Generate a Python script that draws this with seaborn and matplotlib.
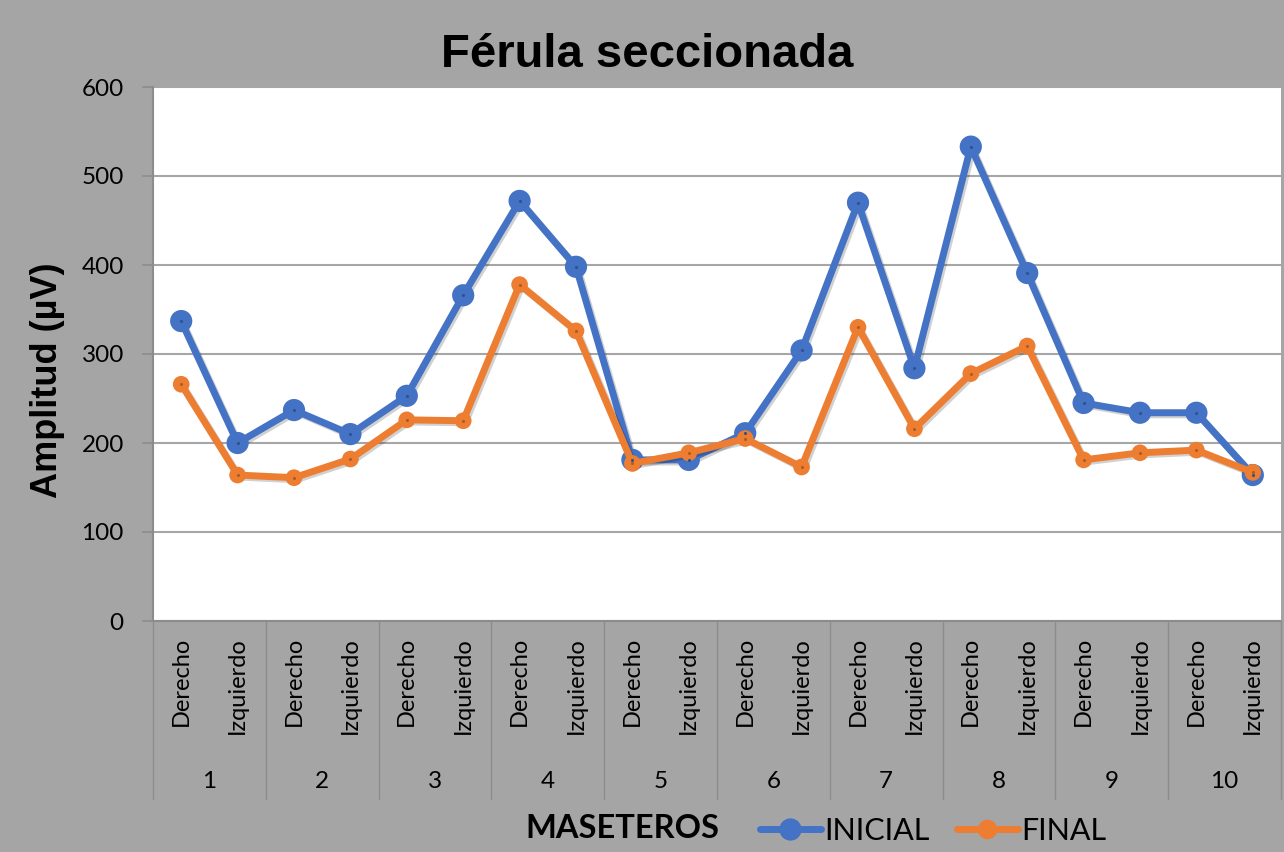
import pandas as pd
import seaborn as sns
import matplotlib.pyplot as plt
import matplotlib.patheffects as pe
from matplotlib.lines import Line2D

# Datos
maseteros = ["1", "2", "3", "4", "5", "6", "7", "8", "9", "10"]
lados = ["Derecho", "Izquierdo"]
inicial = [337, 200, 237, 210, 253, 366, 472, 398, 181, 181,
           211, 304, 470, 284, 533, 391, 245, 234, 234, 164]
final = [266, 164, 161, 182, 226, 225, 378, 326, 177, 189,
         205, 173, 330, 216, 278, 309, 181, 189, 192, 167]

etiquetas = [lado for m in maseteros for lado in lados]
pos = list(range(len(etiquetas)))

df = pd.DataFrame({"pos": pos + pos,
                   "valor": inicial + final,
                   "serie": ["INICIAL"] * len(pos) + ["FINAL"] * len(pos)})

azul = "#4472C4"
naranja = "#ED7D31"
gris = "#A5A5A5"

sns.set_style("white")
plt.rcParams["font.family"] = ["Lato", "DejaVu Sans"]
plt.rcParams["text.color"] = "black"
plt.rcParams["ytick.color"] = "black"

fig = plt.figure(figsize=(12.84, 8.52), dpi=100, facecolor=gris)
ax = fig.add_axes([153 / 1284, 1 - 621 / 852, 1128 / 1284, 534 / 852])
ax.set_facecolor("white")

sombra = [pe.SimpleLineShadow(offset=(1.5, -1.5), shadow_color="k", alpha=0.18), pe.Normal()]

for serie, color, ms, oscuro in [("INICIAL", azul, 16, "#2F528F"), ("FINAL", naranja, 12, "#AE5A21")]:
    sub = df[df["serie"] == serie]
    sns.lineplot(data=sub, x="pos", y="valor", color=color, lw=5, marker="o",
                 markersize=ms, markeredgewidth=0, ax=ax, legend=False,
                 path_effects=sombra, zorder=3)
    sns.scatterplot(data=sub, x="pos", y="valor", color=oscuro, s=5, linewidth=0,
                    ax=ax, legend=False, zorder=4)

ax.set_xlim(-0.5, len(pos) - 0.5)
ax.set_ylim(0, 600)
ax.set_yticks(range(0, 601, 100))
ax.yaxis.grid(True, color="#A6A6A6", lw=1.5)
ax.set_axisbelow(True)
for s in ["top", "right", "bottom"]:
    ax.spines[s].set_visible(False)
ax.spines["left"].set_color("#8C8C8C")
ax.spines["left"].set_linewidth(1.5)
ax.tick_params(axis="y", left=True, length=8, width=1.2, color="#8C8C8C",
               labelsize=17.5, pad=13, labelcolor="black")
ax.set_xticks([])
ax.set_xlabel("")
ax.set_ylabel("")

# eje de categorías en dos niveles
trans = ax.get_xaxis_transform()
for i, lab in enumerate(etiquetas):
    ax.text(i, -0.03, lab, rotation=90, ha="center", va="top", fontsize=17,
            transform=trans, clip_on=False)
for g, m in enumerate(maseteros):
    ax.text(2 * g + 0.5, -0.301, m, ha="center", va="center", fontsize=17.5,
            transform=trans, clip_on=False)
for g in range(len(maseteros) + 1):
    ax.plot([2 * g - 0.5, 2 * g - 0.5], [0, -0.333], color="#8C8C8C", lw=1,
            transform=trans, clip_on=False)
ax.plot([-0.5, len(pos) - 0.5], [0, 0], color="#8C8C8C", lw=1.5,
        transform=trans, clip_on=False)

fig.text(647 / 1284, 1 - 55 / 852, "Férula seccionada", ha="center", va="center",
         fontsize=34, fontweight="bold", family="Liberation Sans")
fig.text(48 / 1284, 1 - 380 / 852, "Amplitud (µV)", ha="center", va="center",
         rotation=90, fontsize=26, fontweight="bold", family="Liberation Sans")
fig.text(622 / 1284, 1 - 828 / 852, "MASETEROS", ha="center", va="center",
         fontsize=23.5, fontweight="bold")

handles = [Line2D([], [], color=azul, lw=5, marker="o", markersize=15),
           Line2D([], [], color=naranja, lw=5, marker="o", markersize=13)]
fig.legend(handles, ["INICIAL", "FINAL"], loc="center", ncol=2, frameon=False,
           bbox_to_anchor=(933 / 1284, 1 - 831 / 852), fontsize=22,
           handlelength=2.0, handletextpad=0.1, columnspacing=0.9)

fig.savefig("out.png", dpi=100, facecolor=gris)
